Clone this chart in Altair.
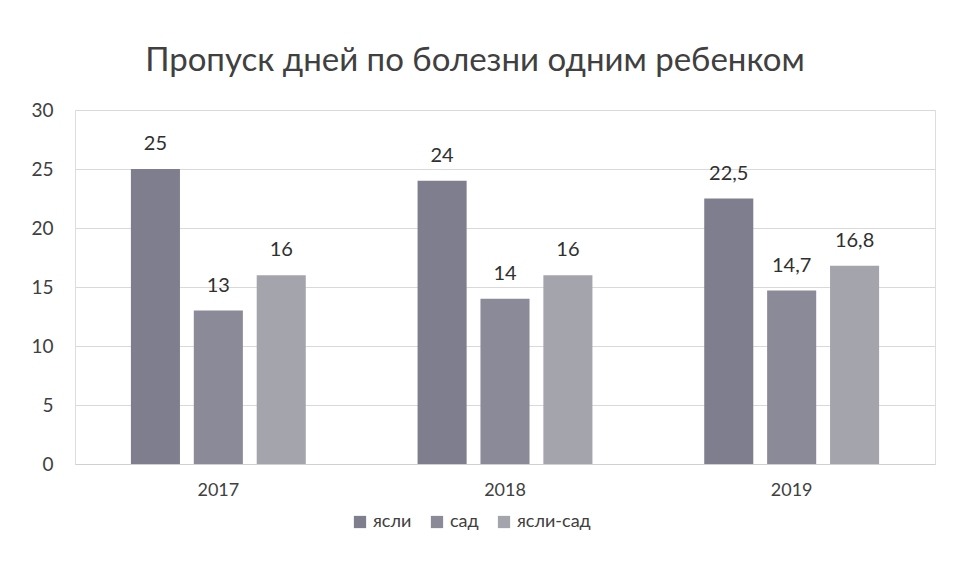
import altair as alt
import pandas as pd

years = ["2017", "2018", "2019"]
series = ["ясли", "сад", "ясли-сад"]
yasli = [25, 24, 22.5]
sad = [13, 14, 14.7]
yasli_sad = [16, 16, 16.8]
colors = ["#7f7e8f", "#8b8a98", "#a4a4ad"]
y_ticks = [0, 5, 10, 15, 20, 25, 30]

rows = []
for s, vals in zip(series, [yasli, sad, yasli_sad]):
    for yr, v in zip(years, vals):
        lab = (f"{v:g}").replace(".", ",")
        rows.append({"year": yr, "series": s, "value": v, "label": lab})
df = pd.DataFrame(rows)

font = "Lato"

base = alt.Chart(df).encode(
    x=alt.X("year:N", title=None, sort=years,
            scale=alt.Scale(paddingInner=0.39, paddingOuter=0.195),
            axis=alt.Axis(labelAngle=0, labelFontSize=18, labelColor="#404040",
                          labelFont=font, ticks=False, labelPadding=17,
                          domainColor="#d0d0d0")),
    xOffset=alt.XOffset("series:N", sort=series,
                        scale=alt.Scale(paddingInner=0.22, paddingOuter=0)),
)

bars = base.mark_bar().encode(
    y=alt.Y("value:Q", title=None,
            scale=alt.Scale(domain=[0, 30]),
            axis=alt.Axis(values=y_ticks, labelFontSize=19, labelColor="#404040",
                          labelFont=font, ticks=False, domain=False,
                          labelPadding=22, gridColor="#d9d9d9")),
    color=alt.Color("series:N", sort=series,
                    scale=alt.Scale(domain=series, range=colors),
                    legend=alt.Legend(title=None, orient="none", direction="horizontal",
                                      legendX=276, legendY=403,
                                      symbolType="square", symbolSize=150,
                                      symbolStrokeWidth=0, labelFontSize=18,
                                      labelFont=font, labelColor="#404040",
                                      columnPadding=16, symbolOffset=0)),
)

labels = base.mark_text(dy=-15, fontSize=20, font=font, color="#303030",
                        baseline="bottom").encode(
    y=alt.Y("value:Q"),
    text="label:N",
)

chart = (bars + labels).properties(
    width=860,
    height=354,
    autosize=alt.AutoSizeParams(type="none"),
    padding={"left": 67, "top": 102, "right": 11, "bottom": 108},
    title=alt.Title("Пропуск дней по болезни одним ребенком",
                    fontSize=33, font=font, fontWeight="normal", color="#404040",
                    anchor="middle", dx=-30, offset=-3, baseline="alphabetic"),
).configure_view(stroke=None).configure(background="white")

chart.save("out.html", embed_options={"renderer": "svg", "actions": False})
